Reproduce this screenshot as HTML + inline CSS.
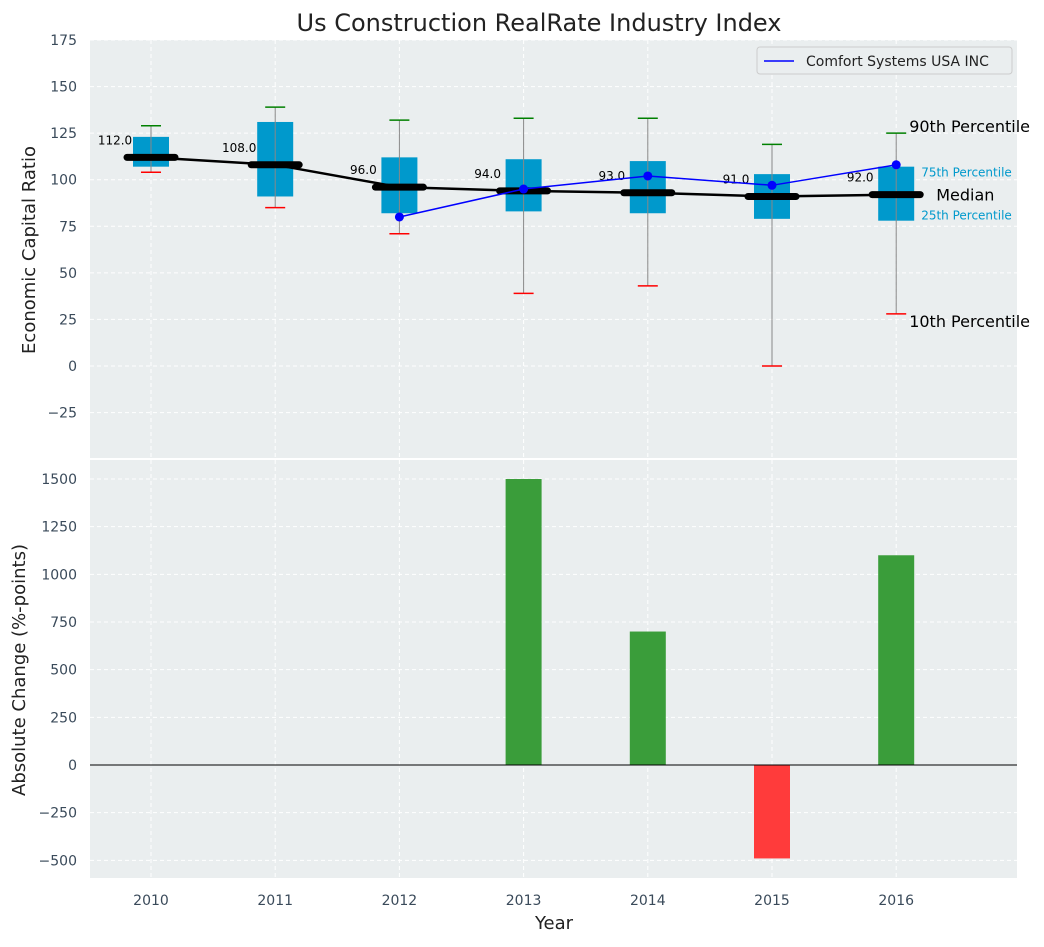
<!DOCTYPE html>
<html><head><meta charset="utf-8"><style>
body{margin:0;background:#fff;font-family:"Liberation Sans","DejaVu Sans",sans-serif}
svg text{font-family:"DejaVu Sans","Liberation Sans",sans-serif}
</style></head><body>
<svg id="c" width="1044" height="942" xmlns="http://www.w3.org/2000/svg"></svg>
<script>
const years=[2010,2011,2012,2013,2014,2015,2016];
const q1=[107,91,82,83,82,79,78];
const q3=[123,131,112,111,110,103,107];
const p10=[104,85,71,39,43,0,28];
const p90=[129,139,132,133,133,119,125];
const med=[112,108,96,94,93,91,92];
const compYears=[2012,2013,2014,2015,2016];
const compVals=[80,95,102,97,108];
const chgYears=[2013,2014,2015,2016];
const chgVals=[1500,700,-490,1100];
const topTicks=[-25,0,25,50,75,100,125,150,175];
const botTicks=[-500,-250,0,250,500,750,1000,1250,1500];

const svg=document.getElementById('c');
const NS='http://www.w3.org/2000/svg';
function mk(t,a,txt){const e=document.createElementNS(NS,t);for(const k in a)e.setAttribute(k,a[k]);if(txt!==undefined)e.textContent=txt;svg.appendChild(e);return e;}
const fmt=v=>String(v).replace('-','\u2212');
const L=90,R=1017;
const x=v=>151+(v-2010)*124.2;
const yT=v=>366-(v)*(326/175);
const yB=v=>765-v*(286/1500);
const T0=40,T1=458,B0=460,B1=878;

let e;
e=mk('rect',{x:L,y:T0,width:R-L,height:T1-T0,fill:'#eaeeef'});

e=mk('rect',{x:L,y:B0,width:R-L,height:B1-B0,fill:'#eaeeef'});


topTicks.forEach(t=>{const y=yT(t);
 mk('line',{x1:L,x2:R,y1:y,y2:y,stroke:'#fff','stroke-dasharray':'4,3','stroke-width':1});
 e=mk('text',{x:77,y:y+5,'text-anchor':'end','font-size':14,fill:'#3a4a5a'},fmt(t));
 });
botTicks.forEach(t=>{const y=yB(t);
 mk('line',{x1:L,x2:R,y1:y,y2:y,stroke:'#fff','stroke-dasharray':'4,3','stroke-width':1});
 e=mk('text',{x:77,y:y+5,'text-anchor':'end','font-size':14,fill:'#3a4a5a'},fmt(t));
 });
years.forEach(yr=>{const xx=x(yr);
 mk('line',{x1:xx,x2:xx,y1:T0,y2:T1,stroke:'#fff','stroke-dasharray':'4,3'});
 mk('line',{x1:xx,x2:xx,y1:B0,y2:B1,stroke:'#fff','stroke-dasharray':'4,3'});
 e=mk('text',{x:xx,y:905,'text-anchor':'middle','font-size':14,fill:'#3a4a5a'},yr);
 });

years.forEach((yr,i)=>{const xx=x(yr);
 e=mk('rect',{x:xx-18,y:yT(q3[i]),width:36,height:yT(q1[i])-yT(q3[i]),fill:'#0099cc'});
 
 mk('line',{x1:xx,x2:xx,y1:yT(p90[i]),y2:yT(p10[i]),stroke:'#888','stroke-width':1});
 mk('line',{x1:xx-10,x2:xx+10,y1:yT(p90[i]),y2:yT(p90[i]),stroke:'green','stroke-width':1.5});
 mk('line',{x1:xx-10,x2:xx+10,y1:yT(p10[i]),y2:yT(p10[i]),stroke:'red','stroke-width':1.5});
});
e=mk('polyline',{points:years.map((yr,i)=>x(yr)+','+yT(med[i])).join(' '),fill:'none',stroke:'#000','stroke-width':2.5});

years.forEach((yr,i)=>{const xx=x(yr);
 mk('line',{x1:xx-24,x2:xx+24,y1:yT(med[i]),y2:yT(med[i]),stroke:'#000','stroke-width':7,'stroke-linecap':'round'});
 e=mk('text',{x:xx-36,y:yT(med[i])-13,'text-anchor':'middle','font-size':12,fill:'#000'},med[i].toFixed(1));
 });
e=mk('polyline',{points:compYears.map((yr,i)=>x(yr)+','+yT(compVals[i])).join(' '),fill:'none',stroke:'blue','stroke-width':1.5});

compYears.forEach((yr,i)=>{e=mk('circle',{cx:x(yr),cy:yT(compVals[i]),r:4.5,fill:'blue'});
 });

const li=years.length-1,lx=x(years[li]);
[['90th Percentile',lx+13,yT(p90[li])-1,16,'#000'],['10th Percentile',lx+13,yT(p10[li])+13,16,'#000'],
 ['Median',lx+40,yT(med[li])+6,16,'#000'],['75th Percentile',lx+25,yT(q3[li])+10,12,'#0099cc'],['25th Percentile',lx+25,yT(q1[li])-1,12,'#0099cc']]
.forEach(a=>{e=mk('text',{x:a[1],y:a[2],'font-size':a[3],fill:a[4]},a[0]);
 });

e=mk('rect',{x:757,y:47,width:255,height:27,fill:'#eaeeef',stroke:'#ccc',rx:3});

mk('line',{x1:764,x2:794,y1:61,y2:61,stroke:'blue','stroke-width':1.5});
e=mk('text',{x:806,y:66,'font-size':14,fill:'#222'},'Comfort Systems USA INC');


chgYears.forEach((yr,i)=>{const v=chgVals[i];const y0=yB(0),y1=yB(v);
 e=mk('rect',{x:x(yr)-18,y:Math.min(y0,y1),width:36,height:Math.abs(y1-y0),fill:v>=0?'#3a9d3a':'#ff3b3b'});
 });
mk('line',{x1:L,x2:R,y1:yB(0),y2:yB(0),stroke:'#000','stroke-width':1});

e=mk('text',{x:539,y:31,'text-anchor':'middle','font-size':24,fill:'#222'},'Us Construction RealRate Industry Index');

e=mk('text',{x:35,y:250,'text-anchor':'middle','font-size':18,fill:'#222',transform:'rotate(-90 35 250)'},'Economic Capital Ratio');

e=mk('text',{x:25,y:670,'text-anchor':'middle','font-size':18,fill:'#222',transform:'rotate(-90 25 670)'},'Absolute Change (%-points)');

e=mk('text',{x:554,y:929,'text-anchor':'middle','font-size':18,fill:'#222'},'Year');

</script>
</body></html>
